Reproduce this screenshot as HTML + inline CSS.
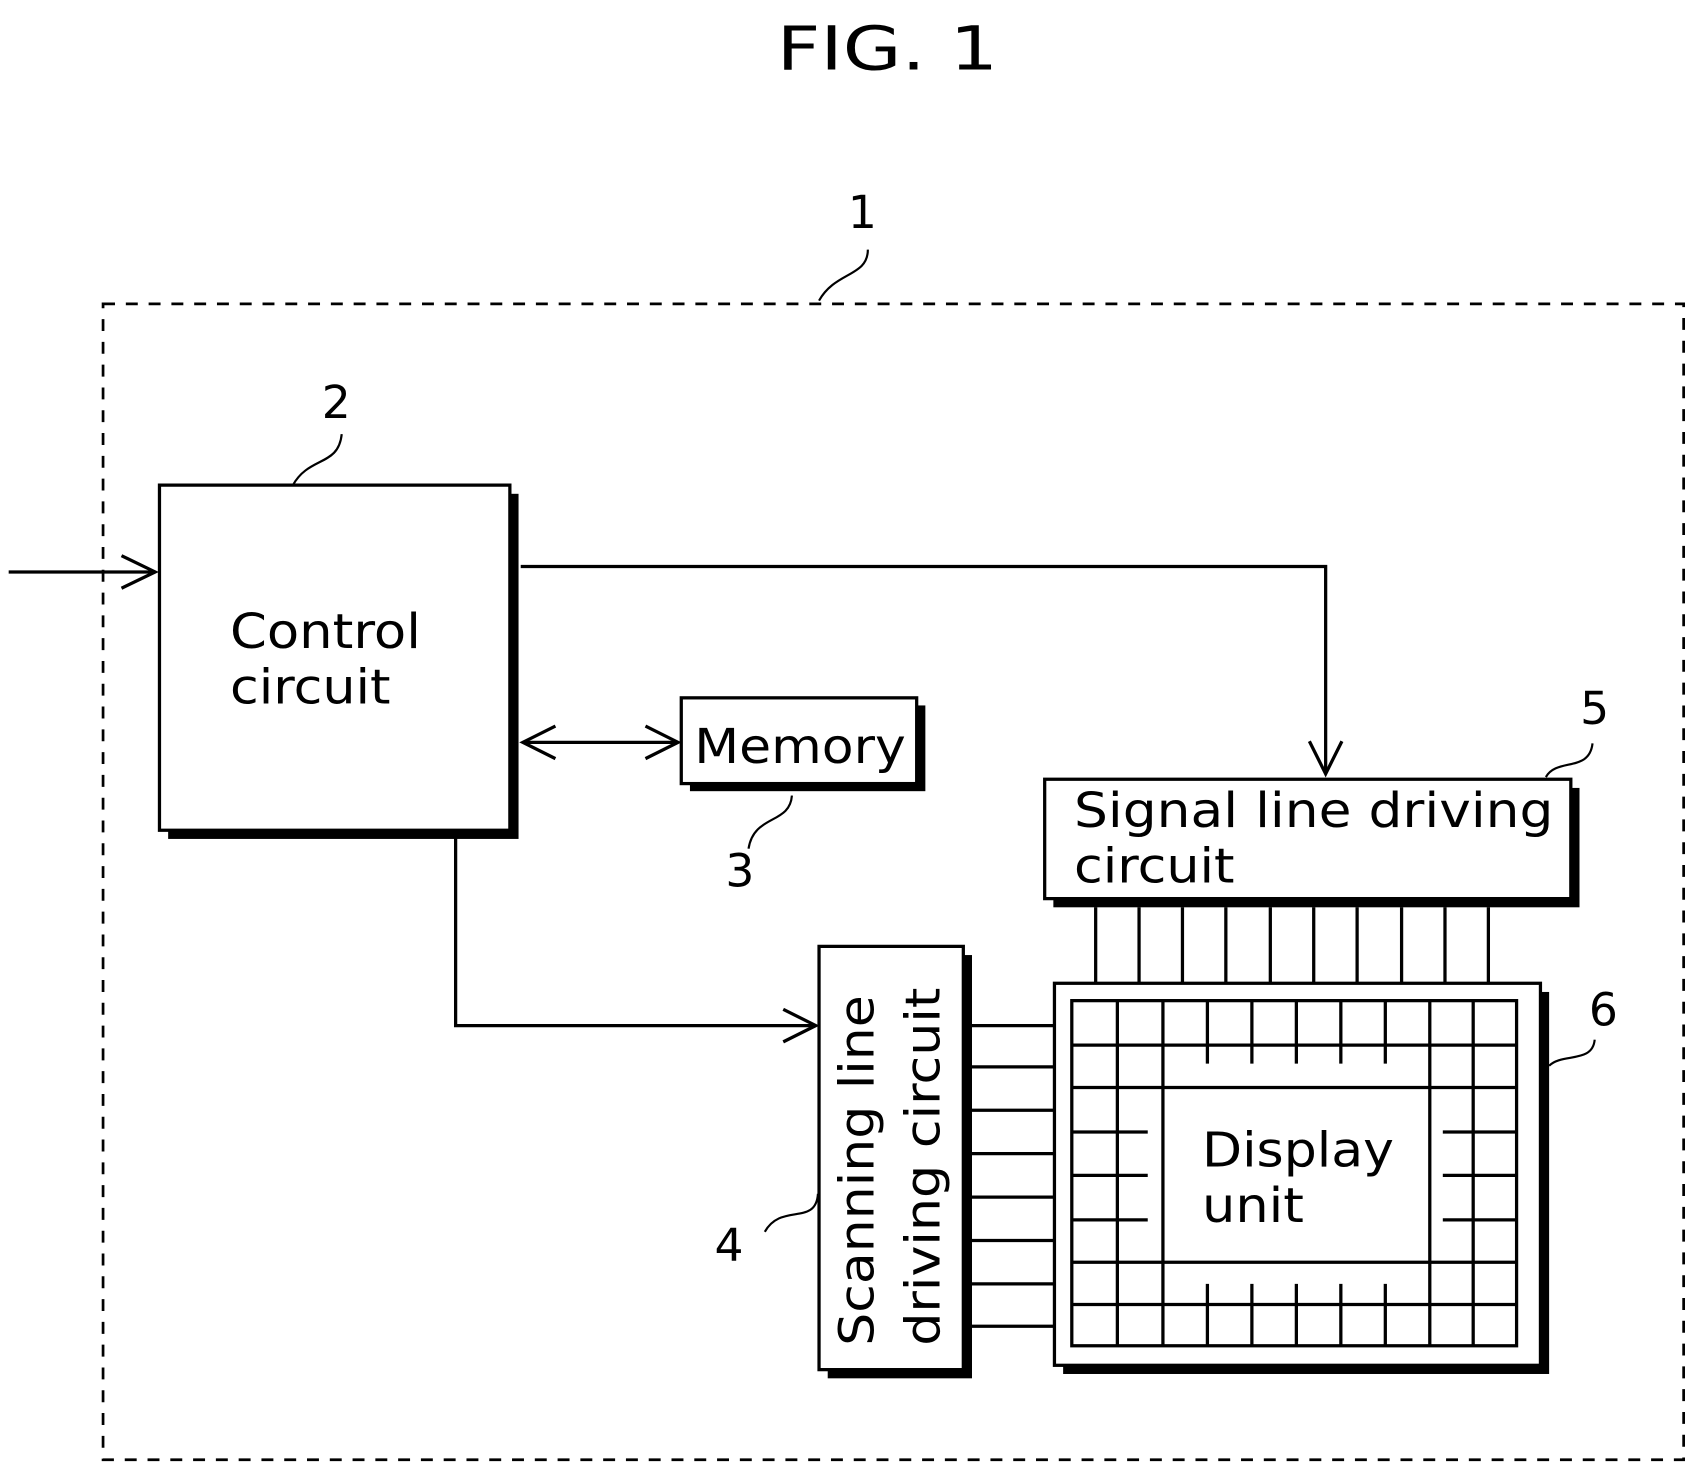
<!DOCTYPE html>
<html><head><meta charset="utf-8"><style>html,body{margin:0;padding:0;background:#fff}svg{display:block}</style></head>
<body>
<svg width="1701" height="1476" viewBox="0 0 1568 1360" preserveAspectRatio="none" xmlns="http://www.w3.org/2000/svg" font-family="'DejaVu Sans','Liberation Sans',sans-serif" fill="none" stroke="#000">
<text x="716" y="64" font-size="56" textLength="204" lengthAdjust="spacingAndGlyphs" fill="#000" stroke="none">FIG. 1</text>
<rect x="95" y="280" width="1457" height="1065" stroke-width="2.5" stroke-dasharray="11,10"/>
<text x="795" y="210" font-size="42" text-anchor="middle" fill="#000" stroke="none">1</text>
<path d="M800,230 C800,255 770,250 755,277" stroke-width="2"/>
<path d="M8,527 H143" stroke-width="3"/>
<path d="M112,512 L143,527 L112,542" stroke-width="3"/>
<rect x="155" y="455" width="323" height="318" fill="#000" stroke="none"/>
<rect x="147" y="447" width="323" height="318" fill="#fff" stroke-width="3"/>
<text x="212" y="597" font-size="44" textLength="176" lengthAdjust="spacingAndGlyphs" fill="#000" stroke="none">Control</text>
<text x="212" y="648" font-size="44" textLength="148" lengthAdjust="spacingAndGlyphs" fill="#000" stroke="none">circuit</text>
<text x="310" y="385" font-size="42" text-anchor="middle" fill="#000" stroke="none">2</text>
<path d="M315,400 C312,430 285,420 270,447" stroke-width="2"/>
<path d="M480,522 H1222 V713" stroke-width="3"/>
<path d="M1207,683 L1222,713 L1237,683" stroke-width="3"/>
<rect x="636" y="650" width="217" height="79" fill="#000" stroke="none"/>
<rect x="628" y="643" width="217" height="79" fill="#fff" stroke-width="3"/>
<text x="640" y="703" font-size="44" textLength="195" lengthAdjust="spacingAndGlyphs" fill="#000" stroke="none">Memory</text>
<path d="M482,684 H625" stroke-width="3"/>
<path d="M512,669 L482,684 L512,699 M595,669 L625,684 L595,699" stroke-width="3"/>
<text x="682" y="817" font-size="42" text-anchor="middle" fill="#000" stroke="none">3</text>
<path d="M730,733 C728,760 695,750 690,782" stroke-width="2"/>
<path d="M420,772 V945 H752" stroke-width="3"/>
<path d="M722,930 L752,945 L722,960" stroke-width="3"/>
<rect x="971" y="726" width="485" height="110" fill="#000" stroke="none"/>
<rect x="963" y="718" width="485" height="110" fill="#fff" stroke-width="3"/>
<text x="990" y="762" font-size="44" textLength="442" lengthAdjust="spacingAndGlyphs" fill="#000" stroke="none">Signal line driving</text>
<text x="990" y="813" font-size="44" textLength="148" lengthAdjust="spacingAndGlyphs" fill="#000" stroke="none">circuit</text>
<text x="1470" y="667" font-size="42" text-anchor="middle" fill="#000" stroke="none">5</text>
<path d="M1468,685 C1465,712 1435,698 1425,716" stroke-width="2"/>
<g stroke-width="3">
<path d="M1010,836 V906 M1050,836 V906 M1090,836 V906 M1130,836 V906 M1171,836 V906 M1211,836 V906 M1251,836 V906 M1292,836 V906 M1332,836 V906 M1372,836 V906"/>
</g>
<rect x="763" y="880" width="133" height="390" fill="#000" stroke="none"/>
<rect x="755" y="872" width="133" height="390" fill="#fff" stroke-width="3"/>
<text transform="translate(805,1240) rotate(-90)" font-size="44" textLength="323" lengthAdjust="spacingAndGlyphs" fill="#000" stroke="none">Scanning line</text>
<text transform="translate(866,1240) rotate(-90)" font-size="44" textLength="330" lengthAdjust="spacingAndGlyphs" fill="#000" stroke="none">driving circuit</text>
<text x="672" y="1162" font-size="42" text-anchor="middle" fill="#000" stroke="none">4</text>
<path d="M754,1100 C752,1130 720,1108 705,1135" stroke-width="2"/>
<g stroke-width="3">
<path d="M896,945 H972 M896,983 H972 M896,1023 H972 M896,1063 H972 M896,1103 H972 M896,1143 H972 M896,1183 H972 M896,1222 H972"/>
</g>
<rect x="980" y="914" width="448" height="352" fill="#000" stroke="none"/>
<rect x="972" y="906" width="448" height="352" fill="#fff" stroke-width="3"/>
<g stroke-width="3">
<rect x="988" y="922" width="410" height="318"/>
<path d="M988,963 H1398 M988,1002 H1398 M988,1163 H1398 M988,1202 H1398"/>
<path d="M988,1043 H1058 M988,1083 H1058 M988,1124 H1058 M1330,1043 H1398 M1330,1083 H1398 M1330,1124 H1398"/>
<path d="M1030,922 V1240 M1072,922 V1240 M1318,922 V1240 M1358,922 V1240"/>
<path d="M1113,922 V980 M1154,922 V980 M1195,922 V980 M1236,922 V980 M1277,922 V980"/>
<path d="M1113,1183 V1240 M1154,1183 V1240 M1195,1183 V1240 M1236,1183 V1240 M1277,1183 V1240"/>
</g>
<text x="1108" y="1075" font-size="44" textLength="177" lengthAdjust="spacingAndGlyphs" fill="#000" stroke="none">Display</text>
<text x="1108" y="1126" font-size="44" textLength="94" lengthAdjust="spacingAndGlyphs" fill="#000" stroke="none">unit</text>
<text x="1478" y="945" font-size="42" text-anchor="middle" fill="#000" stroke="none">6</text>
<path d="M1470,958 C1468,980 1440,970 1428,982" stroke-width="2"/>
</svg>
</body></html>
